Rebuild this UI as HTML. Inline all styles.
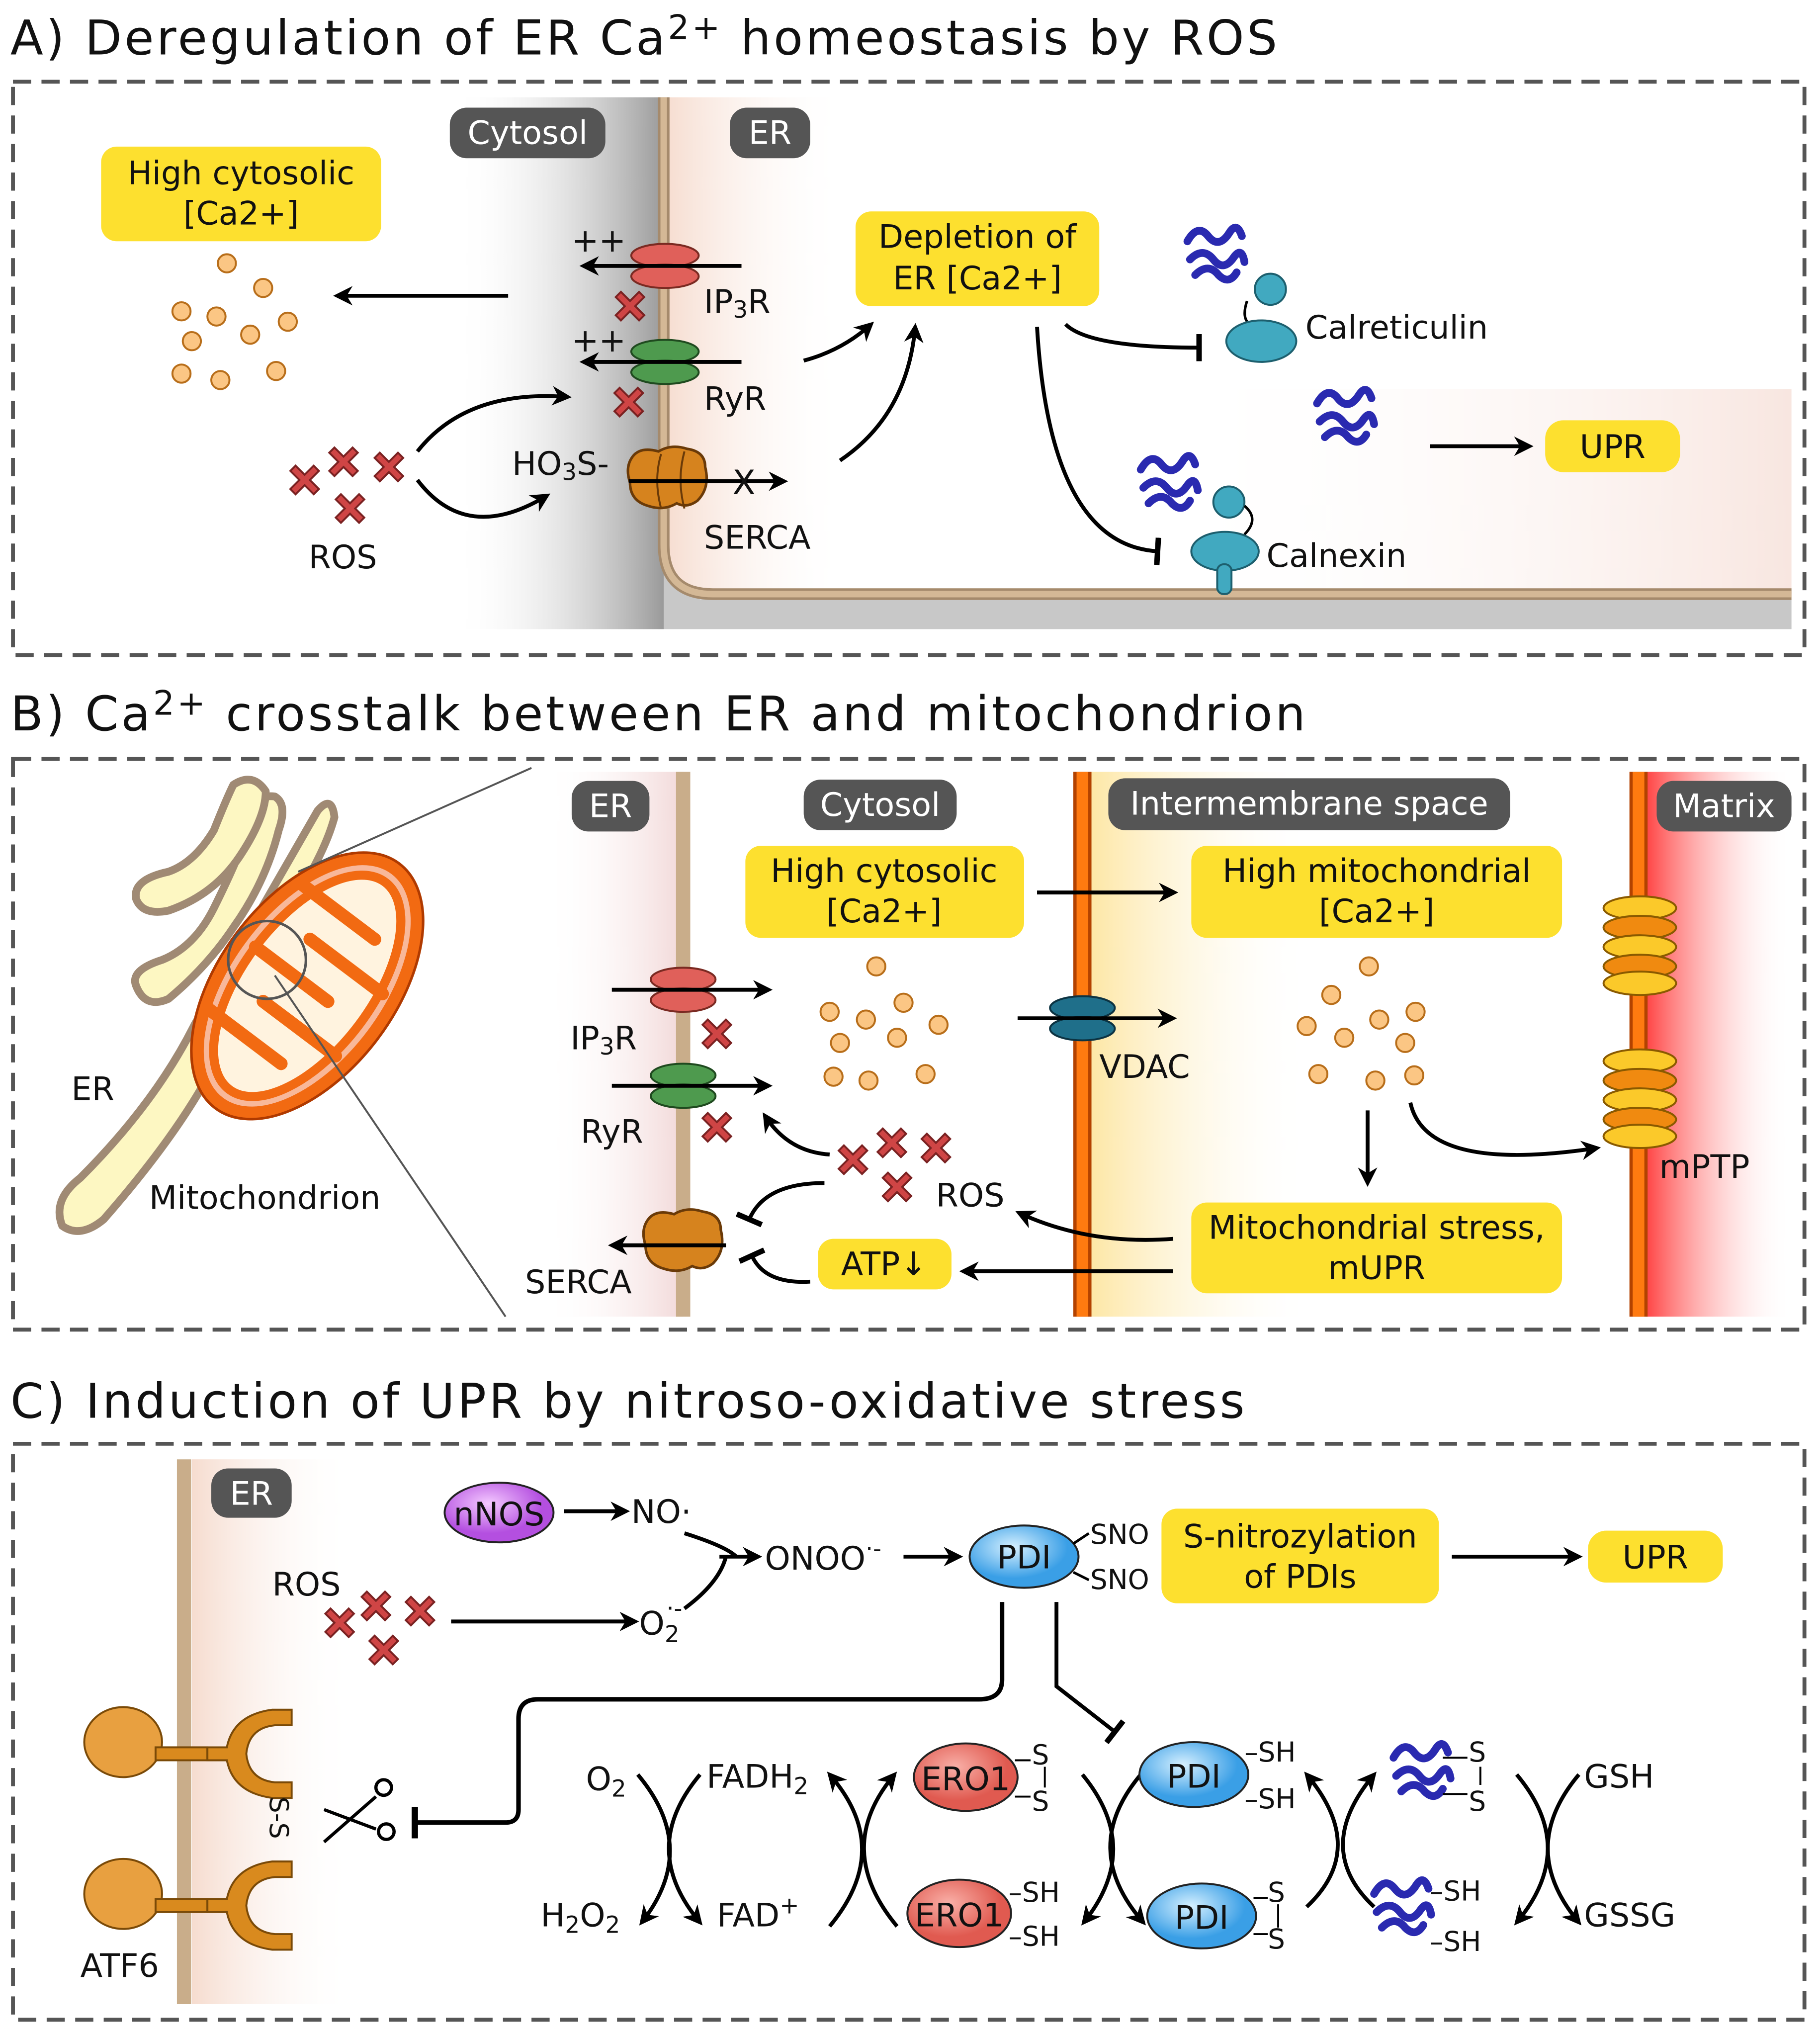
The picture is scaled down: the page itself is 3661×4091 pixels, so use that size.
<!DOCTYPE html>
<html><head><meta charset="utf-8"><style>
html,body{margin:0;padding:0;background:#fff}
svg{display:block}
text{font-family:"DejaVu Sans","Liberation Sans",sans-serif;fill:#111}
.ttl{letter-spacing:2px}
</style></head><body>
<svg width="3661" height="4091" viewBox="0 0 1404 1568" preserveAspectRatio="none" xmlns="http://www.w3.org/2000/svg">
<defs>
<marker id="ar" viewBox="0 0 10 10" refX="8" refY="5" markerWidth="5" markerHeight="5" orient="auto-start-reverse"><path d="M0,0 L10,5 L0,10 L3,5z" fill="#000"/></marker>
<marker id="bar" viewBox="0 0 4 20" refX="2" refY="10" markerWidth="3" markerHeight="7" orient="auto"><rect x="0" y="0" width="4" height="20" fill="#000"/></marker>
<linearGradient id="gCyt" x1="0" x2="1"><stop offset="0" stop-color="#fff" stop-opacity="0"/><stop offset="1" stop-color="#9a9a9a"/></linearGradient>
<linearGradient id="gER" x1="0" x2="1"><stop offset="0" stop-color="#f6dccf"/><stop offset="1" stop-color="#fff" stop-opacity="0"/></linearGradient>
<linearGradient id="gERb" x1="0" x2="1"><stop offset="0" stop-color="#fff" stop-opacity="0"/><stop offset="1" stop-color="#f2d8d8"/></linearGradient>
<linearGradient id="gERc" x1="0" x2="1"><stop offset="0" stop-color="#fff" stop-opacity="0"/><stop offset="1" stop-color="#f8e6e0"/></linearGradient>
<linearGradient id="gIMS" x1="0" x2="1"><stop offset="0" stop-color="#fde7a6"/><stop offset="1" stop-color="#fff" stop-opacity="0"/></linearGradient>
<linearGradient id="gMat" x1="0" x2="1"><stop offset="0" stop-color="#f44"/><stop offset="1" stop-color="#fff" stop-opacity="0"/></linearGradient>
<radialGradient id="gBlue" cx="0.4" cy="0.35"><stop offset="0" stop-color="#d6f0ff"/><stop offset="1" stop-color="#3a9fe6"/></radialGradient>
<radialGradient id="gRed" cx="0.4" cy="0.35"><stop offset="0" stop-color="#f9b0a8"/><stop offset="1" stop-color="#e05a50"/></radialGradient>
<radialGradient id="gPur" cx="0.4" cy="0.35"><stop offset="0" stop-color="#f4c9ff"/><stop offset="1" stop-color="#b44fe0"/></radialGradient>
<g id="ros"><path d="M-11,-7 L-7,-11 L0,-4 L7,-11 L11,-7 L4,0 L11,7 L7,11 L0,4 L-7,11 L-11,7 L-4,0z" fill="#cf4545" stroke="#7a2222" stroke-width="1.5"/></g>
<g id="dot"><circle r="7" fill="#fbc684" stroke="#b86e1a" stroke-width="1.5"/></g>
<g id="prot"><path d="M-22,-12 q8,-14 16,-4 q8,10 16,-2 q6,-10 10,2 M-20,2 q10,-10 18,0 q8,10 16,-2 q6,-8 8,4 M-16,14 q10,-10 18,0 q8,8 14,-2" fill="none" stroke="#2a2ab0" stroke-width="6" stroke-linecap="round"/></g>
</defs>
<g font-size="25">
<!-- ===== Panel A ===== -->
<text class="ttl" x="8" y="42" font-size="37">A) Deregulation of ER Ca<tspan font-size="26" dy="-12">2+</tspan><tspan dy="12"> homeostasis by ROS</tspan></text>
<rect x="10" y="63" width="1382" height="442" fill="none" stroke="#555" stroke-width="3" stroke-dasharray="14,8"/>
<rect x="350" y="75" width="162" height="410" fill="url(#gCyt)"/>
<rect x="512" y="75" width="140" height="383" fill="url(#gER)"/>
<rect x="900" y="300" width="482" height="158" fill="url(#gERc)"/>
<path d="M512,440 L512,485 L1382,485 L1382,462 L540,462z" fill="#c8c8c8"/>
<path d="M512,75 L512,420 Q512,458 550,458 L1382,458" fill="none" stroke="#a58a6c" stroke-width="9"/>
<path d="M512,75 L512,420 Q512,458 550,458 L1382,458" fill="none" stroke="#d4b896" stroke-width="5"/>
<rect x="347" y="83" width="120" height="39" rx="13" fill="#555"/><text x="407" y="111" text-anchor="middle" style="fill:#fff">Cytosol</text>
<rect x="563" y="83" width="62" height="39" rx="13" fill="#555"/><text x="594" y="111" text-anchor="middle" style="fill:#fff">ER</text>
<rect x="78" y="113" width="216" height="73" rx="12" fill="#fde02f"/><text x="186" y="142" text-anchor="middle">High cytosolic</text><text x="186" y="173" text-anchor="middle">[Ca2+]</text>
<g><use href="#dot" x="175" y="203"/><use href="#dot" x="203" y="222"/><use href="#dot" x="140" y="240"/><use href="#dot" x="167" y="244"/><use href="#dot" x="222" y="248"/><use href="#dot" x="148" y="263"/><use href="#dot" x="193" y="258"/><use href="#dot" x="140" y="288"/><use href="#dot" x="170" y="293"/><use href="#dot" x="213" y="286"/></g>
<line x1="392" y1="228" x2="260" y2="228" stroke="#000" stroke-width="3" marker-end="url(#ar)"/>
<ellipse cx="513" cy="197" rx="26" ry="9" fill="#e0605a" stroke="#7a2a22" stroke-width="1.5"/><ellipse cx="513" cy="213" rx="26" ry="9" fill="#e0605a" stroke="#7a2a22" stroke-width="1.5"/>
<line x1="572" y1="205" x2="450" y2="205" stroke="#000" stroke-width="3" marker-end="url(#ar)"/>
<text x="441" y="194">++</text><text x="543" y="241">IP<tspan font-size="18" dy="4">3</tspan><tspan dy="-4">R</tspan></text>
<use href="#ros" x="486" y="236"/>
<ellipse cx="513" cy="271" rx="26" ry="9" fill="#4e9a4e" stroke="#1f4a1f" stroke-width="1.5"/><ellipse cx="513" cy="287" rx="26" ry="9" fill="#4e9a4e" stroke="#1f4a1f" stroke-width="1.5"/>
<line x1="572" y1="279" x2="450" y2="279" stroke="#000" stroke-width="3" marker-end="url(#ar)"/>
<text x="441" y="271">++</text><text x="543" y="316">RyR</text>
<use href="#ros" x="485" y="310"/>
<path d="M488,352 q6,-8 20,-4 q10,-6 22,-2 q14,2 14,14 q4,16 -6,26 q-8,6 -16,2 q-10,6 -22,2 q-14,-4 -14,-18 q-4,-12 2,-20z" fill="#d6831e" stroke="#6a3a08" stroke-width="2"/>
<path d="M510,350 q-6,20 0,42 M528,348 q-6,22 0,44" fill="none" stroke="#6a3a08" stroke-width="1.5"/>
<line x1="485" y1="371" x2="605" y2="371" stroke="#000" stroke-width="3" marker-end="url(#ar)"/>
<text x="565" y="381" font-size="26">X</text>
<text x="395" y="366">HO<tspan font-size="18" dy="4">3</tspan><tspan dy="-4">S-</tspan></text><text x="543" y="423">SERCA</text>
<use href="#ros" x="235" y="370"/><use href="#ros" x="265" y="356"/><use href="#ros" x="300" y="360"/><use href="#ros" x="270" y="392"/>
<text x="238" y="438">ROS</text>
<path d="M322,348 Q360,300 438,306" fill="none" stroke="#000" stroke-width="3" marker-end="url(#ar)"/>
<path d="M322,370 Q360,420 422,382" fill="none" stroke="#000" stroke-width="3" marker-end="url(#ar)"/>
<path d="M620,278 Q650,270 672,250" fill="none" stroke="#000" stroke-width="3" marker-end="url(#ar)"/>
<path d="M648,355 Q700,320 706,252" fill="none" stroke="#000" stroke-width="3" marker-end="url(#ar)"/>
<rect x="660" y="163" width="188" height="73" rx="12" fill="#fde02f"/><text x="754" y="191" text-anchor="middle">Depletion of</text><text x="754" y="223" text-anchor="middle">ER [Ca2+]</text>
<path d="M822,250 Q840,268 925,268" fill="none" stroke="#000" stroke-width="3" marker-end="url(#bar)"/>
<path d="M800,252 Q810,420 893,425" fill="none" stroke="#000" stroke-width="3" marker-end="url(#bar)"/>
<use href="#prot" x="938" y="198"/>
<path d="M962,232 q-6,18 8,20" fill="none" stroke="#000" stroke-width="2"/>
<circle cx="980" cy="223" r="12" fill="#41a9c0" stroke="#1d5f6e" stroke-width="1.5"/><ellipse cx="973" cy="263" rx="27" ry="16" fill="#41a9c0" stroke="#1d5f6e" stroke-width="1.5"/>
<text x="1007" y="261">Calreticulin</text>
<use href="#prot" x="1038" y="323"/>
<line x1="1103" y1="344" x2="1180" y2="344" stroke="#000" stroke-width="3" marker-end="url(#ar)"/>
<rect x="1192" y="324" width="104" height="40" rx="14" fill="#fde02f"/><text x="1244" y="353" text-anchor="middle">UPR</text>
<use href="#prot" x="902" y="374"/>
<circle cx="948" cy="387" r="12" fill="#41a9c0" stroke="#1d5f6e" stroke-width="1.5"/>
<path d="M960,390 q12,10 0,22" fill="none" stroke="#000" stroke-width="2"/>
<ellipse cx="945" cy="425" rx="26" ry="15" fill="#41a9c0" stroke="#1d5f6e" stroke-width="1.5"/><rect x="939" y="435" width="11" height="23" rx="5" fill="#41a9c0" stroke="#1d5f6e" stroke-width="1.5"/>
<text x="977" y="437">Calnexin</text>

<!-- ===== Panel B ===== -->
<text class="ttl" x="8" y="563" font-size="37">B) Ca<tspan font-size="26" dy="-12">2+</tspan><tspan dy="12"> crosstalk between ER and mitochondrion</tspan></text>
<rect x="10" y="585" width="1382" height="440" fill="none" stroke="#555" stroke-width="3" stroke-dasharray="14,8"/>
<g fill="#fdf7c2" stroke="#a08a74" stroke-width="6" stroke-linejoin="round">
<path d="M48,945 Q40,925 62,908 Q120,850 150,790 Q190,720 245,625 Q256,612 258,630 Q250,660 220,705 Q190,760 175,800 Q150,860 80,940 Q62,955 48,945z"/>
<path d="M105,760 Q100,748 125,740 Q150,730 165,700 Q185,660 195,630 Q196,612 212,614 Q222,620 215,640 Q205,680 180,715 Q160,745 130,770 Q112,778 105,760z"/>
<path d="M105,693 Q102,678 130,672 Q150,665 165,640 Q175,615 180,605 Q195,595 205,610 Q205,630 185,660 Q165,690 130,702 Q110,706 105,693z"/>
</g>
<g transform="translate(237,760) rotate(37)">
<ellipse rx="68" ry="118" fill="#f26a12" stroke="#b03a00" stroke-width="2"/>
<ellipse rx="58" ry="108" fill="#f8b89a"/>
<ellipse rx="50" ry="100" fill="#fff3df" stroke="#f26a12" stroke-width="7"/>
<path d="M-50,-60 L20,-60 M50,-30 L-20,-30 M-50,0 L20,0 M50,30 L-20,30 M-50,60 L20,60" stroke="#f26a12" stroke-width="10" stroke-linecap="round"/>
</g>
<circle cx="206" cy="740" r="30" fill="none" stroke="#555" stroke-width="2"/>
<line x1="410" y1="592" x2="230" y2="672" stroke="#555" stroke-width="1.5"/>
<line x1="212" y1="752" x2="390" y2="1015" stroke="#555" stroke-width="1.5"/>
<text x="55" y="848">ER</text><text x="115" y="932">Mitochondrion</text>
<rect x="420" y="595" width="107" height="420" fill="url(#gERb)"/>
<rect x="842" y="595" width="170" height="420" fill="url(#gIMS)"/>
<rect x="1270" y="595" width="112" height="420" fill="url(#gMat)"/>
<line x1="527" y1="595" x2="527" y2="1015" stroke="#c9ad8a" stroke-width="11"/>
<line x1="835" y1="595" x2="835" y2="1015" stroke="#b34200" stroke-width="14"/><line x1="835" y1="595" x2="835" y2="1015" stroke="#ff7a10" stroke-width="9"/>
<line x1="1264" y1="595" x2="1264" y2="1015" stroke="#b34200" stroke-width="14"/><line x1="1264" y1="595" x2="1264" y2="1015" stroke="#ff7a10" stroke-width="9"/>
<rect x="441" y="602" width="60" height="39" rx="13" fill="#555"/><text x="471" y="630" text-anchor="middle" style="fill:#fff">ER</text>
<rect x="620" y="601" width="118" height="39" rx="13" fill="#555"/><text x="679" y="629" text-anchor="middle" style="fill:#fff">Cytosol</text>
<rect x="855" y="600" width="310" height="40" rx="13" fill="#555"/><text x="1010" y="628" text-anchor="middle" style="fill:#fff">Intermembrane space</text>
<rect x="1278" y="602" width="104" height="39" rx="13" fill="#555"/><text x="1330" y="630" text-anchor="middle" style="fill:#fff">Matrix</text>
<rect x="575" y="652" width="215" height="71" rx="12" fill="#fde02f"/><text x="682" y="680" text-anchor="middle">High cytosolic</text><text x="682" y="711" text-anchor="middle">[Ca2+]</text>
<rect x="919" y="652" width="286" height="71" rx="12" fill="#fde02f"/><text x="1062" y="680" text-anchor="middle">High mitochondrial</text><text x="1062" y="711" text-anchor="middle">[Ca2+]</text>
<line x1="800" y1="688" x2="906" y2="688" stroke="#000" stroke-width="3" marker-end="url(#ar)"/>
<ellipse cx="527" cy="755" rx="25" ry="9" fill="#e0605a" stroke="#7a2a22" stroke-width="1.5"/><ellipse cx="527" cy="771" rx="25" ry="9" fill="#e0605a" stroke="#7a2a22" stroke-width="1.5"/>
<line x1="472" y1="763" x2="593" y2="763" stroke="#000" stroke-width="3" marker-end="url(#ar)"/>
<ellipse cx="527" cy="829" rx="25" ry="9" fill="#4e9a4e" stroke="#1f4a1f" stroke-width="1.5"/><ellipse cx="527" cy="845" rx="25" ry="9" fill="#4e9a4e" stroke="#1f4a1f" stroke-width="1.5"/>
<line x1="472" y1="837" x2="593" y2="837" stroke="#000" stroke-width="3" marker-end="url(#ar)"/>
<use href="#ros" x="553" y="797"/><use href="#ros" x="553" y="869"/>
<text x="440" y="809">IP<tspan font-size="18" dy="4">3</tspan><tspan dy="-4">R</tspan></text><text x="448" y="881">RyR</text>
<ellipse cx="835" cy="777" rx="25" ry="9" fill="#1f6f8a" stroke="#0c3342" stroke-width="1.5"/><ellipse cx="835" cy="793" rx="25" ry="9" fill="#1f6f8a" stroke="#0c3342" stroke-width="1.5"/>
<line x1="785" y1="785" x2="905" y2="785" stroke="#000" stroke-width="3" marker-end="url(#ar)"/>
<text x="848" y="831">VDAC</text>
<g><use href="#dot" x="676" y="745"/><use href="#dot" x="640" y="780"/><use href="#dot" x="668" y="786"/><use href="#dot" x="697" y="773"/><use href="#dot" x="724" y="790"/><use href="#dot" x="648" y="804"/><use href="#dot" x="692" y="800"/><use href="#dot" x="643" y="830"/><use href="#dot" x="670" y="833"/><use href="#dot" x="714" y="828"/>
<use href="#dot" x="1056" y="745"/><use href="#dot" x="1027" y="767"/><use href="#dot" x="1008" y="791"/><use href="#dot" x="1064" y="786"/><use href="#dot" x="1092" y="780"/><use href="#dot" x="1037" y="800"/><use href="#dot" x="1084" y="804"/><use href="#dot" x="1017" y="828"/><use href="#dot" x="1061" y="833"/><use href="#dot" x="1091" y="829"/></g>
<g fill="#fbc92a" stroke="#8a5a00" stroke-width="1.5">
<ellipse cx="1265" cy="700" rx="28" ry="9"/><ellipse cx="1265" cy="715" rx="28" ry="9" fill="#f08a10"/><ellipse cx="1265" cy="730" rx="28" ry="9"/><ellipse cx="1265" cy="745" rx="28" ry="9" fill="#f08a10"/><ellipse cx="1265" cy="758" rx="28" ry="9"/>
<ellipse cx="1265" cy="818" rx="28" ry="9"/><ellipse cx="1265" cy="833" rx="28" ry="9" fill="#f08a10"/><ellipse cx="1265" cy="848" rx="28" ry="9"/><ellipse cx="1265" cy="863" rx="28" ry="9" fill="#f08a10"/><ellipse cx="1265" cy="876" rx="28" ry="9"/>
</g>
<text x="1280" y="908">mPTP</text>
<line x1="1055" y1="856" x2="1055" y2="912" stroke="#000" stroke-width="3" marker-end="url(#ar)"/>
<path d="M1088,850 Q1100,905 1232,885" fill="none" stroke="#000" stroke-width="3" marker-end="url(#ar)"/>
<use href="#ros" x="658" y="894"/><use href="#ros" x="688" y="881"/><use href="#ros" x="722" y="885"/><use href="#ros" x="692" y="915"/>
<text x="722" y="930">ROS</text>
<path d="M640,890 Q608,888 590,860" fill="none" stroke="#000" stroke-width="3" marker-end="url(#ar)"/>
<path d="M636,912 Q590,912 578,940" fill="none" stroke="#000" stroke-width="3" marker-end="url(#bar)"/>
<path d="M905,955 Q840,960 786,935" fill="none" stroke="#000" stroke-width="3" marker-end="url(#ar)"/>
<line x1="905" y1="980" x2="743" y2="980" stroke="#000" stroke-width="3" marker-end="url(#ar)"/>
<rect x="631" y="955" width="103" height="39" rx="12" fill="#fde02f"/><text x="682" y="983" text-anchor="middle">ATP↓</text>
<path d="M625,988 Q590,990 580,968" fill="none" stroke="#000" stroke-width="3" marker-end="url(#bar)"/>
<rect x="919" y="927" width="286" height="70" rx="12" fill="#fde02f"/><text x="1062" y="955" text-anchor="middle">Mitochondrial stress,</text><text x="1062" y="986" text-anchor="middle">mUPR</text>
<path d="M500,940 q6,-8 20,-4 q10,-6 22,-2 q14,2 14,14 q4,16 -6,26 q-8,6 -16,2 q-10,6 -22,2 q-14,-4 -14,-18 q-4,-12 2,-20z" fill="#d6831e" stroke="#6a3a08" stroke-width="2"/>
<line x1="560" y1="960" x2="472" y2="960" stroke="#000" stroke-width="3" marker-end="url(#ar)"/>
<text x="405" y="997">SERCA</text>

<!-- ===== Panel C ===== -->
<text class="ttl" x="8" y="1093" font-size="37">C) Induction of UPR by nitroso-oxidative stress</text>
<rect x="10" y="1113" width="1382" height="444" fill="none" stroke="#555" stroke-width="3" stroke-dasharray="14,8"/>
<rect x="148" y="1125" width="125" height="420" fill="url(#gER)"/>
<line x1="142" y1="1125" x2="142" y2="1545" stroke="#c9ad8a" stroke-width="11"/>
<rect x="163" y="1132" width="62" height="38" rx="13" fill="#555"/><text x="194" y="1160" text-anchor="middle" style="fill:#fff">ER</text>
<g fill="#d98a1e" stroke="#7a4a08" stroke-width="1.5">
<ellipse cx="95" cy="1343" rx="30" ry="27" fill="#e8a040"/><rect x="120" y="1347" width="40" height="10"/>
<path d="M160,1347 L175,1347 Q180,1322 210,1318 L225,1318 L225,1330 L212,1330 Q192,1332 190,1352 Q192,1372 212,1374 L225,1374 L225,1386 L210,1386 Q180,1382 175,1357 L160,1357z"/>
<ellipse cx="95" cy="1460" rx="30" ry="27" fill="#e8a040"/><rect x="120" y="1464" width="40" height="10"/>
<path d="M160,1464 L175,1464 Q180,1439 210,1435 L225,1435 L225,1447 L212,1447 Q192,1449 190,1469 Q192,1489 212,1491 L225,1491 L225,1503 L210,1503 Q180,1499 175,1474 L160,1474z"/>
</g>
<text x="62" y="1524">ATF6</text>
<text transform="translate(208,1385) rotate(90)" font-size="20">S-S</text>
<g stroke="#000" stroke-width="2.5" fill="none"><line x1="250" y1="1420" x2="290" y2="1385"/><line x1="250" y1="1395" x2="290" y2="1410"/><circle cx="296" cy="1378" r="6"/><circle cx="298" cy="1412" r="6"/></g>
<ellipse cx="385" cy="1166" rx="42" ry="23" fill="url(#gPur)" stroke="#222" stroke-width="1.5"/><text x="385" y="1176" text-anchor="middle">nNOS</text>
<line x1="435" y1="1165" x2="483" y2="1165" stroke="#000" stroke-width="3" marker-end="url(#ar)"/>
<text x="487" y="1174">NO·</text>
<text x="210" y="1230">ROS</text>
<use href="#ros" x="262" y="1251"/><use href="#ros" x="290" y="1238"/><use href="#ros" x="324" y="1242"/><use href="#ros" x="296" y="1272"/>
<line x1="348" y1="1250" x2="490" y2="1250" stroke="#000" stroke-width="3" marker-end="url(#ar)"/>
<text x="493" y="1260">O<tspan font-size="18" dy="6">2</tspan><tspan font-size="18" dx="-10" dy="-20">·-</tspan></text>
<path d="M528,1182 Q560,1192 568,1200 M528,1240 Q555,1220 560,1200" fill="none" stroke="#000" stroke-width="3"/>
<line x1="555" y1="1200" x2="585" y2="1200" stroke="#000" stroke-width="3" marker-end="url(#ar)"/>
<text x="590" y="1210">ONOO<tspan font-size="18" dy="-10">·-</tspan></text>
<line x1="697" y1="1200" x2="740" y2="1200" stroke="#000" stroke-width="3" marker-end="url(#ar)"/>
<ellipse cx="790" cy="1200" rx="42" ry="24" fill="url(#gBlue)" stroke="#222" stroke-width="1.5"/><text x="790" y="1209" text-anchor="middle">PDI</text>
<path d="M828,1190 L840,1182 M828,1212 L840,1218" stroke="#000" stroke-width="2"/>
<text x="841" y="1190" font-size="21">SNO</text><text x="841" y="1225" font-size="21">SNO</text>
<rect x="896" y="1163" width="214" height="73" rx="12" fill="#fde02f"/><text x="1003" y="1193" text-anchor="middle">S-nitrozylation</text><text x="1003" y="1224" text-anchor="middle">of PDIs</text>
<line x1="1120" y1="1200" x2="1218" y2="1200" stroke="#000" stroke-width="3" marker-end="url(#ar)"/>
<rect x="1225" y="1180" width="104" height="40" rx="14" fill="#fde02f"/><text x="1277" y="1209" text-anchor="middle">UPR</text>
<path d="M773,1235 L773,1295 Q773,1310 755,1310 L415,1310 Q400,1310 400,1325 L400,1395 Q400,1405 390,1405 L320,1405" fill="none" stroke="#000" stroke-width="3.5" marker-end="url(#bar)"/>
<path d="M815,1235 L815,1300 L860,1335" fill="none" stroke="#000" stroke-width="3" marker-end="url(#bar)"/>
<text x="452" y="1380">O<tspan font-size="18" dy="5">2</tspan></text>
<text x="417" y="1485">H<tspan font-size="18" dy="5">2</tspan><tspan dy="-5">O</tspan><tspan font-size="18" dy="5">2</tspan></text>
<text x="545" y="1378">FADH<tspan font-size="18" dy="5">2</tspan></text>
<text x="553" y="1485">FAD<tspan font-size="18" dy="-10">+</tspan></text>
<g fill="none" stroke="#000" stroke-width="3">
<path d="M492,1368 Q540,1425 495,1482" marker-end="url(#ar)"/><path d="M540,1368 Q492,1425 540,1482" marker-end="url(#ar)"/>
<path d="M640,1485 Q690,1425 640,1368" marker-end="url(#ar)"/><path d="M692,1485 Q642,1425 690,1368" marker-end="url(#ar)"/>
<path d="M835,1368 Q882,1425 836,1482" marker-end="url(#ar)"/><path d="M880,1368 Q832,1425 882,1482" marker-end="url(#ar)"/>
<path d="M1008,1470 Q1056,1425 1008,1368" marker-end="url(#ar)"/><path d="M1060,1470 Q1012,1425 1060,1368" marker-end="url(#ar)"/>
<path d="M1170,1368 Q1218,1425 1170,1482" marker-end="url(#ar)"/><path d="M1218,1368 Q1170,1425 1218,1482" marker-end="url(#ar)"/>
</g>
<ellipse cx="745" cy="1370" rx="40" ry="26" fill="url(#gRed)" stroke="#222" stroke-width="1.5"/><text x="745" y="1380" text-anchor="middle">ERO1</text>
<path d="M783,1357 L795,1357 M783,1385 L795,1385 M806,1362 L806,1378" stroke="#000" stroke-width="1.5"/>
<text x="796" y="1360" font-size="21">S</text><text x="796" y="1396" font-size="21">S</text>
<ellipse cx="740" cy="1475" rx="40" ry="26" fill="url(#gRed)" stroke="#222" stroke-width="1.5"/><text x="740" y="1485" text-anchor="middle">ERO1</text>
<text x="778" y="1466" font-size="21">–SH</text><text x="778" y="1500" font-size="21">–SH</text>
<ellipse cx="921" cy="1368" rx="42" ry="25" fill="url(#gBlue)" stroke="#222" stroke-width="1.5"/><text x="921" y="1378" text-anchor="middle">PDI</text>
<text x="960" y="1358" font-size="21">–SH</text><text x="960" y="1394" font-size="21">–SH</text>
<ellipse cx="927" cy="1477" rx="42" ry="25" fill="url(#gBlue)" stroke="#222" stroke-width="1.5"/><text x="927" y="1487" text-anchor="middle">PDI</text>
<path d="M967,1463 L978,1463 M967,1491 L978,1491 M986,1468 L986,1486" stroke="#000" stroke-width="1.5"/>
<text x="978" y="1466" font-size="21">S</text><text x="978" y="1502" font-size="21">S</text>
<use href="#prot" x="1097" y="1367"/>
<path d="M1113,1355 L1132,1355 M1113,1383 L1132,1383 M1142,1362 L1142,1376" stroke="#000" stroke-width="1.5"/>
<text x="1133" y="1358" font-size="21">S</text><text x="1133" y="1396" font-size="21">S</text>
<use href="#prot" x="1082" y="1472"/>
<text x="1103" y="1465" font-size="21">–SH</text><text x="1103" y="1504" font-size="21">–SH</text>
<text x="1222" y="1378">GSH</text><text x="1222" y="1485">GSSG</text>
</g>
</svg>
</body></html>
